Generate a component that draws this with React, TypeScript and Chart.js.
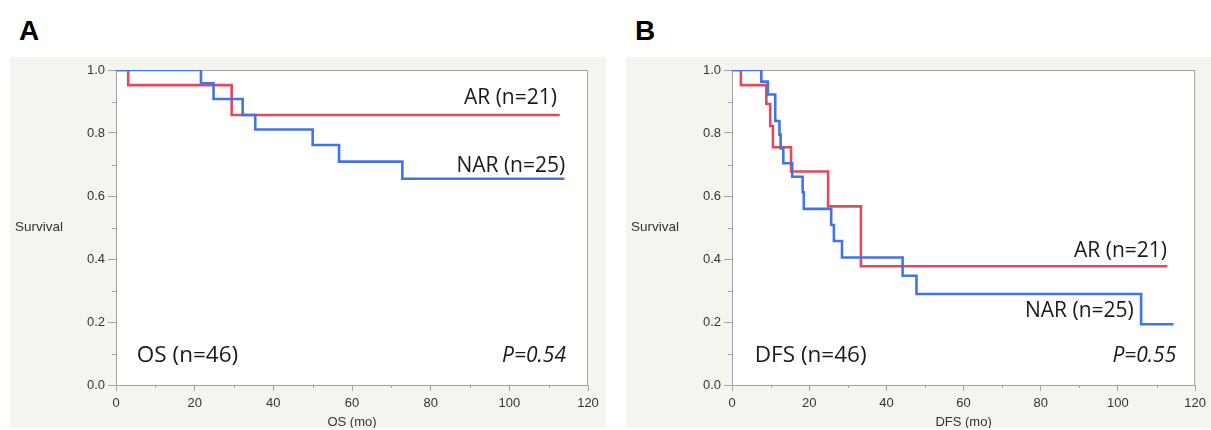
import React, { useEffect, useRef } from 'react';
import { Chart, registerables } from 'chart.js';

Chart.register(...registerables);

// ---------- Data ----------
const xTicksMonths = [0, 20, 40, 60, 80, 100, 120];
const yTicksSurvival = [0, 0.2, 0.4, 0.6, 0.8, 1.0];

// Panel A – overall survival
const osArTime = [0, 3.1, 29.4, 112.8];
const osArSurv = [1, 0.952, 0.857, 0.857];
const osNarTime = [0, 21.6, 24.8, 32.2, 35.4, 50.0, 56.7, 72.8, 114.0];
const osNarSurv = [1, 0.958, 0.908, 0.857, 0.811, 0.762, 0.709, 0.655, 0.655];

// Panel B – disease-free survival
const dfsArTime = [0, 2.3, 8.9, 9.9, 10.6, 15.3, 24.9, 33.4, 112.8];
const dfsArSurv = [1, 0.952, 0.892, 0.822, 0.755, 0.678, 0.567, 0.377, 0.377];
const dfsNarTime = [0, 7.6, 9.3, 11.2, 12.3, 12.6, 13.3, 15.6, 18.3, 18.6, 25.7, 26.4, 28.5, 44.2, 47.8, 106.0, 114.4];
const dfsNarSurv = [1, 0.963, 0.922, 0.838, 0.795, 0.751, 0.704, 0.661, 0.612, 0.559, 0.508, 0.457, 0.405, 0.347, 0.289, 0.193, 0.193];

const arLabel = 'AR (n=21)';
const narLabel = 'NAR (n=25)';

// ---------- Styles ----------
const RED = '#df4b5a';
const BLUE = '#4474e4';
const PANEL_BG = '#f5f5f0';
const AXIS_GRAY = '#a3a3a3';
const TICK_FONT = "'Liberation Sans', Arial, Helvetica, sans-serif";
const NOTE_FONT = "'Open Sans', 'Noto Sans', sans-serif";

type Note = { text: string; x: number; y: number; align: CanvasTextAlign; size: number; italic?: boolean };

type PanelCfg = {
  letter: string;
  left: number;
  width: number;
  rightPad: number;
  xTitle: string;
  arTime: number[];
  arSurv: number[];
  narTime: number[];
  narSurv: number[];
  notes: Note[];
};

const toPoints = (t: number[], s: number[]) => t.map((x, i) => ({ x, y: s[i] }));

const TOP = 57;
const HEIGHT = 371;

function KMPanel({ cfg }: { cfg: PanelCfg }) {
  const ref = useRef<HTMLCanvasElement | null>(null);

  useEffect(() => {
    if (!ref.current) return;
    const decor = {
      id: 'kmDecor',
      beforeDraw(chart: any) {
        const { ctx, chartArea: a } = chart;
        ctx.save();
        ctx.fillStyle = '#ffffff';
        ctx.fillRect(a.left, a.top, a.right - a.left, a.bottom - a.top);
        ctx.restore();
      },
      beforeDatasetsDraw(chart: any) {
        const { ctx, chartArea: a, scales } = chart;
        ctx.save();
        ctx.strokeStyle = AXIS_GRAY;
        ctx.lineWidth = 1;
        ctx.strokeRect(a.left + 0.5, a.top + 0.5, a.right - a.left - 1, a.bottom - a.top);
        // minor ticks
        ctx.beginPath();
        for (let v = 10; v < 120; v += 20) {
          const px = Math.round(scales.x.getPixelForValue(v)) + 0.5;
          ctx.moveTo(px, a.bottom);
          ctx.lineTo(px, a.bottom + 3);
        }
        for (let v = 0.1; v < 1; v += 0.2) {
          const py = Math.round(scales.y.getPixelForValue(v)) + 0.5;
          ctx.moveTo(a.left - 4, py);
          ctx.lineTo(a.left, py);
        }
        ctx.stroke();
        ctx.restore();
      },
      afterDraw(chart: any) {
        const { ctx, chartArea: a, scales } = chart;
        ctx.save();
        ctx.fillStyle = '#333333';
        ctx.font = `13.5px ${TICK_FONT}`;
        ctx.textAlign = 'left';
        ctx.textBaseline = 'middle';
        ctx.fillText('Survival', a.left - 101, (a.top + a.bottom) / 2);
        ctx.textAlign = 'center';
        ctx.font = `13px ${TICK_FONT}`;
        ctx.fillText(cfg.xTitle, (a.left + a.right) / 2, 365);
        ctx.fillStyle = '#1a1a1a';
        ctx.textBaseline = 'alphabetic';
        for (const n of cfg.notes) {
          ctx.font = `${n.italic ? 'italic ' : ''}${n.size}px ${NOTE_FONT}`;
          ctx.textAlign = n.align;
          ctx.fillText(n.text, scales.x.getPixelForValue(n.x), scales.y.getPixelForValue(n.y));
        }
        ctx.restore();
      },
    };

    const chart = new Chart(ref.current, {
      type: 'line',
      data: {
        datasets: [
          {
            label: narLabel,
            data: toPoints(cfg.narTime, cfg.narSurv),
            borderColor: BLUE,
            borderWidth: 2.6,
            stepped: 'before',
            pointRadius: 0,
            fill: false,
          },
          {
            label: arLabel,
            data: toPoints(cfg.arTime, cfg.arSurv),
            borderColor: RED,
            borderWidth: 2.6,
            stepped: 'before',
            pointRadius: 0,
            fill: false,
          },
        ],
      },
      options: {
        responsive: false,
        animation: false,
        devicePixelRatio: 1,
        layout: { padding: { top: 13, right: cfg.rightPad, left: 0, bottom: 0 } },
        plugins: { legend: { display: false }, tooltip: { enabled: false } },
        scales: {
          x: {
            type: 'linear',
            min: 0,
            max: 120,
            afterBuildTicks: (s: any) => {
              s.ticks = xTicksMonths.map((v) => ({ value: v }));
            },
            afterFit: (s: any) => {
              s.height = 43;
            },
            border: { display: false },
            grid: { drawOnChartArea: false, drawTicks: true, tickLength: 6, color: AXIS_GRAY, tickColor: AXIS_GRAY },
            ticks: {
              padding: 5,
              color: '#333333',
              font: { family: TICK_FONT, size: 13 },
              maxRotation: 0,
              callback: (v: any) => String(v),
            },
          },
          y: {
            type: 'linear',
            min: 0,
            max: 1,
            afterBuildTicks: (s: any) => {
              s.ticks = yTicksSurvival.map((v) => ({ value: v }));
            },
            afterFit: (s: any) => {
              s.width = 106;
            },
            border: { display: false },
            grid: { drawOnChartArea: false, drawTicks: true, tickLength: 8, color: AXIS_GRAY, tickColor: AXIS_GRAY },
            ticks: {
              padding: 3,
              color: '#333333',
              font: { family: TICK_FONT, size: 13 },
              callback: (v: any) => Number(v).toFixed(1),
            },
          },
        },
      },
      plugins: [decor],
    } as any);
    return () => chart.destroy();
  }, [cfg]);

  return (
    <>
      <div
        style={{
          position: 'absolute',
          left: cfg.left + 9,
          top: 17,
          fontFamily: TICK_FONT,
          fontWeight: 'bold',
          fontSize: 28,
          lineHeight: 1,
          color: '#000',
        }}
      >
        {cfg.letter}
      </div>
      <canvas
        ref={ref}
        width={cfg.width}
        height={HEIGHT}
        style={{ position: 'absolute', left: cfg.left, top: TOP, width: cfg.width, height: HEIGHT, background: PANEL_BG }}
      />
    </>
  );
}

const panelA: PanelCfg = {
  letter: 'A',
  left: 10,
  width: 596,
  rightPad: 18,
  xTitle: 'OS (mo)',
  arTime: osArTime,
  arSurv: osArSurv,
  narTime: osNarTime,
  narSurv: osNarSurv,
  notes: [
    { text: arLabel, x: 112.1, y: 0.892, align: 'right', size: 21 },
    { text: narLabel, x: 114.2, y: 0.677, align: 'right', size: 21 },
    { text: 'OS (n=46)', x: 5.3, y: 0.074, align: 'left', size: 22.5 },
    { text: 'P=0.54', x: 114.4, y: 0.073, align: 'right', size: 21, italic: true },
  ],
};

const panelB: PanelCfg = {
  letter: 'B',
  left: 626,
  width: 585,
  rightPad: 11,
  xTitle: 'DFS (mo)',
  arTime: dfsArTime,
  arSurv: dfsArSurv,
  narTime: dfsNarTime,
  narSurv: dfsNarSurv,
  notes: [
    { text: arLabel, x: 112.7, y: 0.407, align: 'right', size: 21 },
    { text: narLabel, x: 104.1, y: 0.216, align: 'right', size: 21 },
    { text: 'DFS (n=46)', x: 5.9, y: 0.074, align: 'left', size: 22.5 },
    { text: 'P=0.55', x: 115.1, y: 0.073, align: 'right', size: 21, italic: true },
  ],
};

export default function App() {
  return (
    <div style={{ position: 'fixed', left: 0, top: 0, width: 1211, height: 430, background: '#ffffff', overflow: 'hidden' }}>
      <KMPanel cfg={panelA} />
      <KMPanel cfg={panelB} />
    </div>
  );
}
